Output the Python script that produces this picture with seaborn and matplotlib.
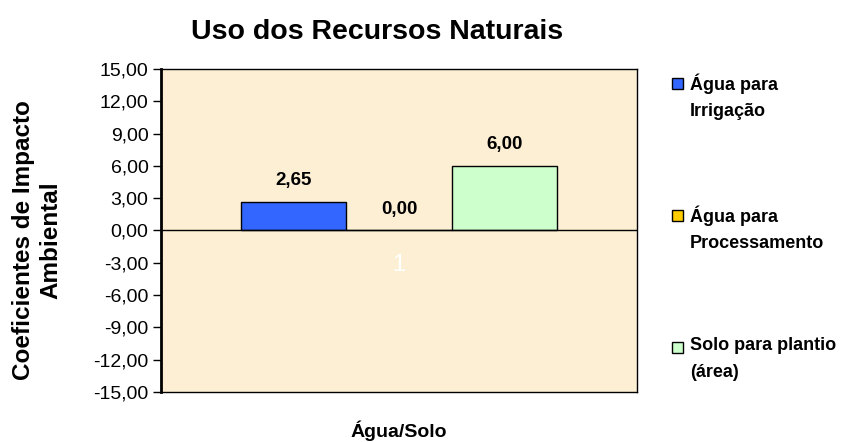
import numpy as np
import pandas as pd
import matplotlib
matplotlib.use("Agg")
import matplotlib.pyplot as plt
import seaborn as sns
from matplotlib.ticker import FuncFormatter
from matplotlib.patches import Rectangle

# dados do gráfico
categorias = ["1"]
series = ["Água para\nIrrigação", "Água para\nProcessamento", "Solo para plantio\n(área)"]
valores = [2.65, 0.00, 6.00]
cores = ["#3366FF", "#FFCC00", "#CCFFCC"]
yticks = [15, 12, 9, 6, 3, 0, -3, -6, -9, -12, -15]

df = pd.DataFrame({
    "categoria": categorias * len(series),
    "serie": series,
    "valor": valores,
})

sns.set_theme(style="white")
plt.rcParams["font.family"] = ["Liberation Sans", "DejaVu Sans"]
plt.rcParams["text.color"] = "black"
plt.rcParams["axes.labelcolor"] = "black"
plt.rcParams["ytick.color"] = "black"

fig = plt.figure(figsize=(8.57, 4.42), dpi=100)
fig.patch.set_facecolor("white")
ax = fig.add_axes([161 / 857, 1 - 392 / 442, (637 - 161) / 857, (392 - 69) / 442])
ax.set_facecolor("#FCEFD4")

sns.barplot(data=df, x="categoria", y="valor", hue="serie", palette=cores,
            saturation=1, width=0.665, edgecolor="black", linewidth=1, ax=ax,
            legend=False)

ax.set_ylim(-15, 15)
ax.set_xlim(-0.5, 0.5)
ax.set_yticks(yticks)
ax.yaxis.set_major_formatter(FuncFormatter(lambda v, p: f"{v:.2f}".replace(".", ",")))
ax.tick_params(axis="y", left=True, length=6, width=1, color="black",
               labelcolor="black", labelsize=14, pad=3)
ax.tick_params(axis="x", bottom=False, labelbottom=False)
ax.axhline(0, color="black", lw=1)

for side, s in ax.spines.items():
    s.set_visible(True)
    s.set_color("black")
    s.set_linewidth(2 if side == "left" else 1)

# rótulos de dados
for bar, v in zip(ax.patches, valores):
    x = bar.get_x() + bar.get_width() / 2
    ax.annotate(f"{v:.2f}".replace(".", ","), xy=(x, v), xytext=(0, 9),
                textcoords="offset points", ha="center", va="bottom",
                fontsize=13.5, fontweight="bold")

# rótulo da categoria (branco, abaixo do eixo zero)
ax.annotate(categorias[0], xy=(0, 0), xytext=(0, -25), textcoords="offset points",
            ha="center", va="center", color="white", fontsize=17)

ax.set_ylabel("Coeficientes de Impacto\nAmbiental", fontsize=17.5, fontweight="bold",
              linespacing=1.2)
ax.yaxis.set_label_coords(-0.208, 0.47)
ax.set_xlabel("Água/Solo", fontsize=14, fontweight="bold")
ax.xaxis.set_label_coords(0.5, -0.088)
fig.text(377 / 857, 1 - 32 / 442, "Uso dos Recursos Naturais", ha="center", va="center",
         fontsize=20.5, fontweight="bold")

# legenda
leg_y = [83, 215, 347]
for lab, cor, y in zip(series, cores, leg_y):
    fig.patches.append(Rectangle((672 / 857, 1 - (y + 6) / 442), 11 / 857, 11 / 442,
                                 transform=fig.transFigure, facecolor=cor,
                                 edgecolor="black", lw=1))
    fig.text(690 / 857, 1 - (y - 10) / 442, lab, ha="left", va="top",
             fontsize=13, fontweight="bold", linespacing=1.75)

fig.savefig("out.png", dpi=100)
